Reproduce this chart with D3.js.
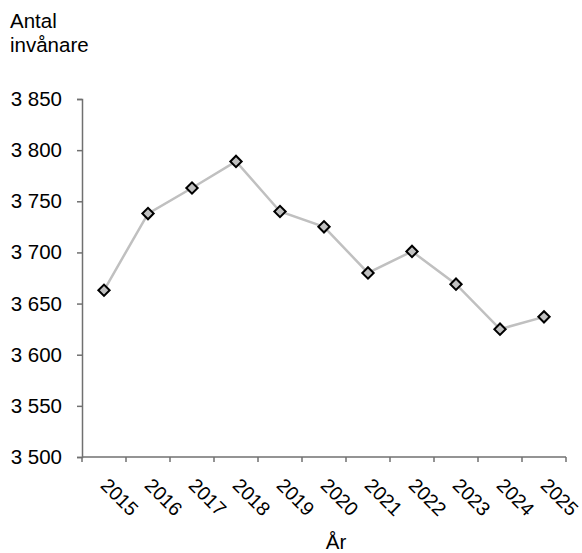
<!DOCTYPE html>
<html>
<head>
<meta charset="utf-8">
<script src="https://cdn.jsdelivr.net/npm/d3@7"></script>
<style>
  body { margin: 0; background: #fff; }
  text { font-family: "Liberation Sans", Arial, sans-serif; fill: #000; }
</style>
</head>
<body>
<svg width="582" height="553"></svg>
<script>
// data
var years = ["2015", "2016", "2017", "2018", "2019", "2020", "2021", "2022", "2023", "2024", "2025"];
var residents = [3663, 3738, 3763, 3789, 3740, 3725, 3680, 3701, 3669, 3625, 3637];
var yTicks = [3500, 3550, 3600, 3650, 3700, 3750, 3800, 3850];

var svg = d3.select("svg");
var mLeft = 82, mRight = 566, mTop = 99, mBottom = 457;
var fs = "20.5px";

var x = d3.scaleBand().domain(years).range([mLeft, mRight]);
var y = d3.scaleLinear().domain([3500, 3850]).range([mBottom, mTop]);

var fmt = function (d) { return d3.format(",")(d).replace(",", " "); };

// y axis
var yAxis = svg.append("g").attr("transform", "translate(" + mLeft + ",0)")
  .call(d3.axisLeft(y).tickValues(yTicks).tickSize(5).tickPadding(15).tickFormat(fmt));
yAxis.selectAll("text").style("font-size", fs);

// x axis, ticks on band edges
var xAxis = svg.append("g").attr("transform", "translate(0," + mBottom + ")");
xAxis.append("line").attr("x1", mLeft).attr("x2", mRight).attr("y1", 0).attr("y2", 0);
xAxis.selectAll("line.tk")
  .data(years.concat(["end"]))
  .enter().append("line").attr("class", "tk")
  .attr("x1", function (d, i) { return mLeft + i * x.step(); })
  .attr("x2", function (d, i) { return mLeft + i * x.step(); })
  .attr("y1", 0).attr("y2", 5);
xAxis.selectAll("text")
  .data(years)
  .enter().append("text")
  .attr("transform", function (d) { return "translate(" + (x(d) + x.bandwidth() / 2 - 4.5) + ",29.5) rotate(45)"; })
  .style("font-size", "19.5px")
  .attr("text-anchor", "start")
  .text(function (d) { return d; });

svg.selectAll("g path.domain, g line").attr("stroke", "#707070").attr("stroke-width", 1.5);

// line
var line = d3.line()
  .x(function (d, i) { return x(years[i]) + x.bandwidth() / 2; })
  .y(function (d) { return y(d); });
svg.append("path").datum(residents)
  .attr("d", line)
  .attr("fill", "none")
  .attr("stroke", "#c0c0c0")
  .attr("stroke-width", 2.5);

// diamond markers
var diamond = d3.symbol().type(d3.symbolSquare).size(64);
svg.selectAll("path.pt")
  .data(residents)
  .enter().append("path").attr("class", "pt")
  .attr("d", diamond)
  .attr("transform", function (d, i) { return "translate(" + (x(years[i]) + x.bandwidth() / 2) + "," + y(d) + ") rotate(45)"; })
  .attr("fill", "#c0c0c0")
  .attr("stroke", "#000")
  .attr("stroke-width", 2);

// titles
svg.append("text").attr("x", 10).attr("y", 28).style("font-size", fs).text("Antal");
svg.append("text").attr("x", 10).attr("y", 52).style("font-size", fs).text("invånare");
svg.append("text").attr("x", 336).attr("y", 549).attr("text-anchor", "middle").style("font-size", fs).text("År");
</script>
</body>
</html>
